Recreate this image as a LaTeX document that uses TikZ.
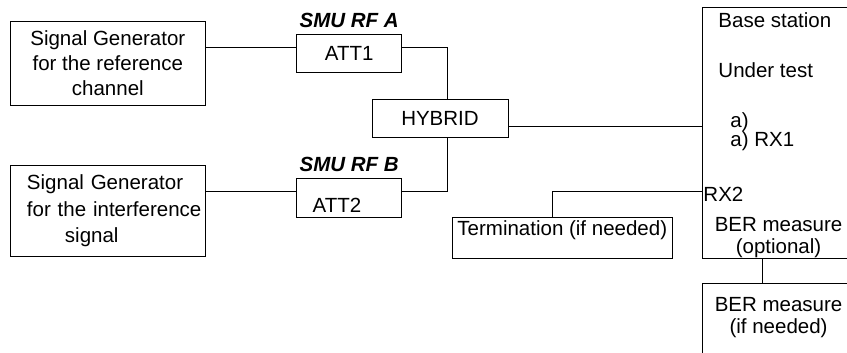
\documentclass[tikz,border=0pt]{standalone}
\usepackage{fontspec}
\setmainfont{Liberation Sans}
\usetikzlibrary{positioning}

\begin{document}
\begin{tikzpicture}[x=1pt, y=1pt,
    box/.style = {draw, line width=0.9pt, inner sep=0pt, font=\fontsize{20.5}{25}\selectfont},
    lbl/.style = {inner sep=0pt, font=\fontsize{20.5}{22}\selectfont},
    smu/.style = {inner sep=0pt, font=\fontsize{20.5}{22}\selectfont\bfseries\itshape},
    wire/.style = {line width=0.9pt}]
    \useasboundingbox (0,0) rectangle (847,353);
    \clip (0,0) rectangle (847,353);
        \node[box, minimum width=195.7pt, minimum height=84.7pt, align=center] (sg1) at (107.85,289.65) {Signal Generator\\for the reference\\channel};
        \node[box, minimum height=91.7pt, text width=161.7pt, inner xsep=17pt, align=left, font=\fontsize{20.5}{26.5}\selectfont] (sg2) at (107.85,142.15) {Signal Generator\\\mbox{for the interference}\\\hspace*{38pt}signal};
        \node[box, minimum width=105pt, minimum height=38.7pt] (att1) at (349.2,299.65) {ATT1};
        \node[box, minimum width=105pt, minimum height=39pt, text width=73pt, inner xsep=16pt, align=left, text height=28.5pt, text depth=0pt] (att2) at (349.2,155.2) {ATT2};
        \node[smu, above=5.7pt of att1] (smua) {SMU RF A};
        \node[smu, above=6pt of att2] (smub) {SMU RF B};
        \node[box, minimum width=136pt, minimum height=38.4pt] (hybrid) at (440,234.5) {HYBRID};
        \node[box, minimum width=167.3pt, minimum height=251pt] (bs) at (786.35,220.2) {};
        \node[box, minimum width=220pt, minimum height=41pt, text height=15.1pt, text depth=19.3pt] (term) at (562.3,115.2) {Termination (if needed)};
        \node[box, minimum width=167.3pt, minimum height=96.7pt] (ber) at (786.35,21.35) {};
        % texts inside the base station
        \node[lbl, anchor=base west] (bsname) at ([xshift=16pt, yshift=-20.7pt]bs.north west) {Base station};
        \node[lbl, anchor=base west] (bstest) at ([xshift=16pt, yshift=-70.7pt]bs.north west) {Under test};
        \node[lbl, anchor=base west] (rxa) at ([xshift=28pt, yshift=-120.7pt]bs.north west) {a)};
        \node[lbl, anchor=base west] (rx1) at ([xshift=28pt, yshift=-139.7pt]bs.north west) {a) RX1};
        \node[lbl, anchor=north, align=center] (berbs) at ([xshift=76.3pt, yshift=41.3pt]bs.south west) {BER measure\\(optional)};
        \node[lbl, anchor=north, align=center] (berext) at ([xshift=76.3pt, yshift=-14.7pt]ber.north west) {BER measure\\(if needed)};
        % wiring
        \coordinate (a1in) at ([yshift=6pt]att1.west);
        \coordinate (a2in) at ([yshift=6.1pt]att2.west);
        \coordinate (hyout) at ([yshift=-7.5pt]hybrid.east);
        \coordinate (rx2) at (bs.west |- a2in);
        \node[lbl, anchor=base west] (rx2txt) at ([xshift=1pt, yshift=-10.3pt]rx2) {RX2};
        \draw[wire] (sg1.east |- a1in) -- (a1in);
        \draw[wire] (sg2.east |- a2in) -- (a2in);
        \draw[wire] ([yshift=6pt]att1.east) -| ([xshift=7.3pt]hybrid.north);
        \draw[wire] ([yshift=6.1pt]att2.east) -| ([xshift=7.3pt]hybrid.south);
        \draw[wire] (hyout) -- (bs.west |- hyout);
        \draw[wire] (rx2) -| ([xshift=-10pt]term.north);
        \draw[wire] ([xshift=60pt]bs.south west) -- ([xshift=60pt]ber.north west);
\end{tikzpicture}
\end{document}
